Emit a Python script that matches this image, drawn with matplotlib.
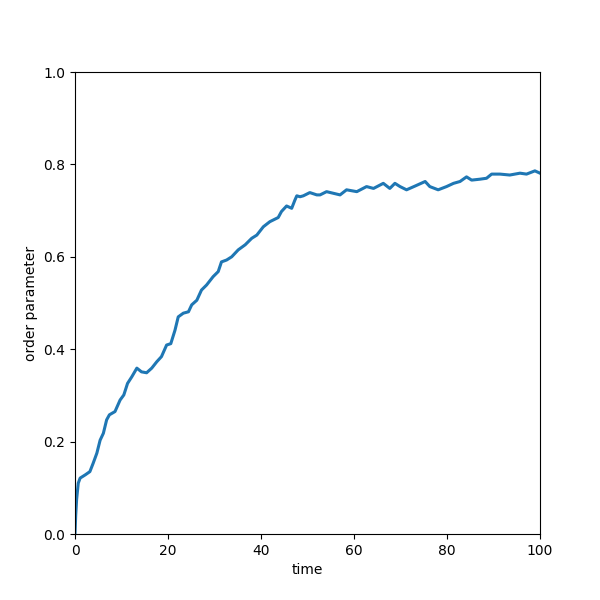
import matplotlib
matplotlib.use("Agg")
import matplotlib.pyplot as plt

time = [0.0, 0.15, 0.35, 0.7, 1.1, 2.2, 3.2, 3.9, 4.7, 5.4, 6.1, 6.8, 7.4, 8.6, 9.7, 10.5,
        11.3, 12.2, 13.3, 14.3, 15.4, 16.5, 17.6, 18.6, 19.7, 20.6, 21.5, 22.2, 23.3,
        24.4, 25.1, 26.2, 27.2, 28.3, 29.7, 30.8, 31.5, 32.6, 33.7, 35.1, 36.6, 38.0,
        39.1, 40.5, 41.9, 43.7, 44.4, 45.5, 46.6, 47.3, 47.7, 48.4, 49.1, 50.5, 52.0,
        52.7, 54.1, 57.0, 58.4, 60.6, 62.7, 64.2, 66.3, 67.7, 68.8, 69.9, 71.3, 73.1,
        75.3, 76.3, 78.1, 79.9, 81.4, 82.8, 84.2, 85.3, 87.1, 88.5, 89.6, 91.4, 93.5,
        95.7, 97.1, 98.9, 100.0]
order = [0.0, 0.04, 0.075, 0.11, 0.121, 0.128, 0.135, 0.153, 0.175, 0.203, 0.218, 0.247,
         0.258, 0.265, 0.29, 0.301, 0.326, 0.340, 0.359, 0.351, 0.349, 0.359, 0.373,
         0.384, 0.409, 0.412, 0.441, 0.470, 0.478, 0.481, 0.496, 0.506, 0.528, 0.539,
         0.557, 0.568, 0.589, 0.593, 0.600, 0.615, 0.626, 0.640, 0.647, 0.665, 0.676,
         0.685, 0.698, 0.710, 0.705, 0.723, 0.732, 0.730, 0.732, 0.739, 0.734, 0.734,
         0.741, 0.734, 0.745, 0.741, 0.752, 0.748, 0.759, 0.748, 0.759, 0.752, 0.745,
         0.753, 0.763, 0.752, 0.745, 0.752, 0.759, 0.763, 0.773, 0.766, 0.768, 0.770,
         0.779, 0.779, 0.777, 0.781, 0.779, 0.786, 0.781]

fig, ax = plt.subplots(figsize=(6, 6), dpi=100)
ax.plot(time, order, color="#1f77b4", linewidth=2.2)
ax.set_xlim(0, 100)
ax.set_ylim(0, 1)
ax.set_xlabel("time")
ax.set_ylabel("order parameter")
fig.savefig("out.png", dpi=100)
